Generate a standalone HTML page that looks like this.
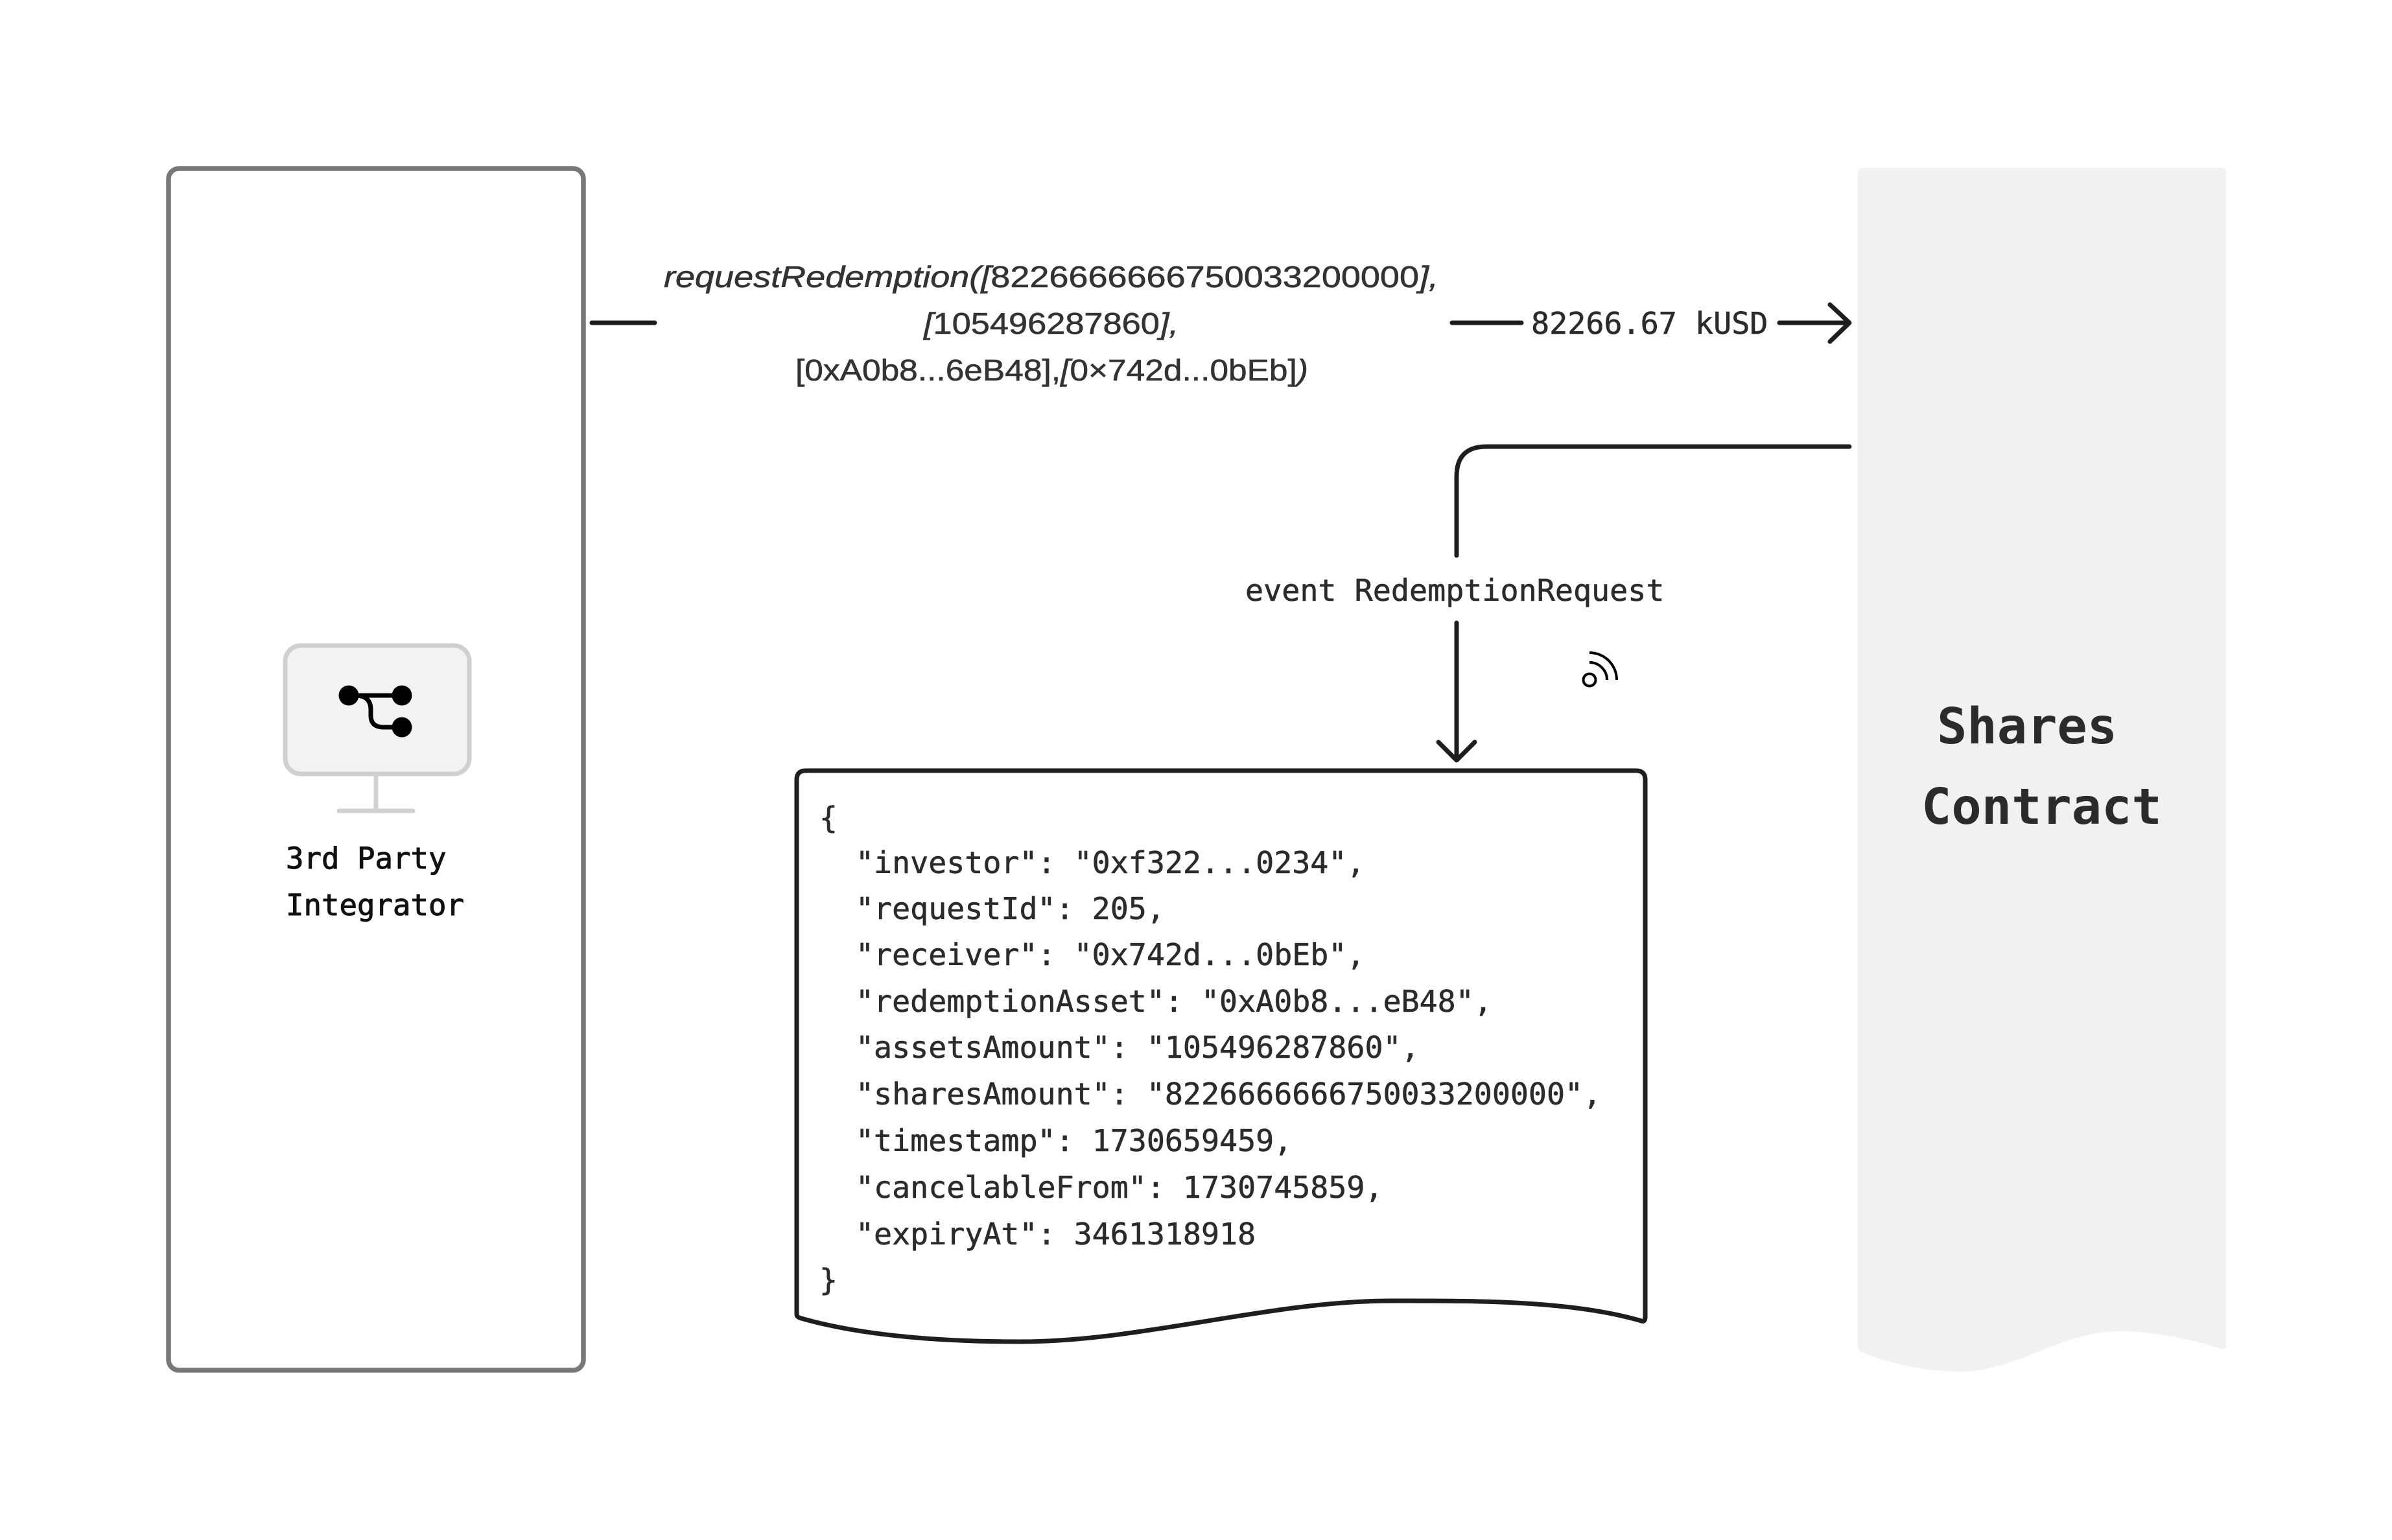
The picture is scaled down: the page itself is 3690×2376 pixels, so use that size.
<!DOCTYPE html>
<html>
<head>
<meta charset="utf-8">
<style>
  html, body { margin: 0; padding: 0; background: #ffffff; }
  body { width: 3690px; height: 2376px; overflow: hidden; }
  svg { display: block; }
</style>
</head>
<body>
<svg width="3690" height="2376" viewBox="0 0 3690 2376" xmlns="http://www.w3.org/2000/svg">
  <rect x="0" y="0" width="3690" height="2376" fill="#ffffff"/>

  <!-- Left: 3rd Party Integrator box -->
  <rect x="260" y="260" width="640" height="1854" rx="16" ry="16" fill="#ffffff" stroke="#787878" stroke-width="7.5"/>

  <!-- Monitor icon -->
  <rect x="440" y="996" width="284" height="198" rx="24" ry="24" fill="#f2f2f2" stroke="#d0d0d0" stroke-width="7"/>
  <line x1="580" y1="1197" x2="580" y2="1250" stroke="#d0d0d0" stroke-width="7"/>
  <line x1="523" y1="1251" x2="637" y2="1251" stroke="#d0d0d0" stroke-width="7" stroke-linecap="round"/>
  <!-- branch glyph -->
  <path d="M538,1073 H620" fill="none" stroke="#000" stroke-width="7"/>
  <path d="M548,1073 Q572,1073 572,1095 L572,1104 Q572,1122 592,1122 L620,1122" fill="none" stroke="#000" stroke-width="7"/>
  <circle cx="538" cy="1073" r="15.5" fill="#000"/>
  <circle cx="620" cy="1073" r="15.5" fill="#000"/>
  <circle cx="620" cy="1122" r="15.5" fill="#000"/>

  <text x="441" y="1340" font-family="'DejaVu Sans Mono', 'Liberation Mono', monospace" font-size="45.7" fill="#111" stroke="#111" stroke-width="1">3rd Party</text>
  <text x="441" y="1412" font-family="'DejaVu Sans Mono', 'Liberation Mono', monospace" font-size="45.7" fill="#111" stroke="#111" stroke-width="1">Integrator</text>

  <!-- Top arrow: requestRedemption -->
  <line x1="913" y1="498" x2="1010" y2="498" stroke="#1e1e1e" stroke-width="7" stroke-linecap="round"/>

  <g font-family="'Liberation Sans', sans-serif" font-size="46" fill="#333" stroke="#333" stroke-width="0.6">
    <text x="1024" y="443" textLength="1195" lengthAdjust="spacingAndGlyphs"><tspan font-style="italic">requestRedemption([</tspan>8226666666750033200000<tspan font-style="italic">],</tspan></text>
    <text x="1425" y="515" textLength="393" lengthAdjust="spacingAndGlyphs"><tspan font-style="italic">[</tspan>105496287860<tspan font-style="italic">],</tspan></text>
    <text x="1227" y="587" textLength="791" lengthAdjust="spacingAndGlyphs">[0xA0b8...6eB48],<tspan font-style="italic">[</tspan>0×742d...0bEb]<tspan font-style="italic">)</tspan></text>
  </g>

  <line x1="2240" y1="498" x2="2347" y2="498" stroke="#1e1e1e" stroke-width="7" stroke-linecap="round"/>
  <text x="2362" y="515" font-family="'DejaVu Sans Mono', 'Liberation Mono', monospace" font-size="46.7" fill="#2b2b2b" stroke="#2b2b2b" stroke-width="0.6">82266.67 kUSD</text>
  <line x1="2745" y1="498" x2="2850" y2="498" stroke="#1e1e1e" stroke-width="7" stroke-linecap="round"/>
  <polyline points="2823,470 2853,498 2823,527" fill="none" stroke="#1e1e1e" stroke-width="7" stroke-linecap="round" stroke-linejoin="round"/>

  <!-- Elbow connector: event -->
  <path d="M2853,689 H2293 Q2247,689 2247,735 V857" fill="none" stroke="#1e1e1e" stroke-width="7" stroke-linecap="round"/>
  <text x="1921" y="927" font-family="'DejaVu Sans Mono', 'Liberation Mono', monospace" font-size="46.7" fill="#2b2b2b" stroke="#2b2b2b" stroke-width="0.6">event RedemptionRequest</text>
  <line x1="2247" y1="961" x2="2247" y2="1170" stroke="#1e1e1e" stroke-width="7" stroke-linecap="round"/>
  <polyline points="2219,1145 2247,1173 2275,1145" fill="none" stroke="#1e1e1e" stroke-width="7" stroke-linecap="round" stroke-linejoin="round"/>

  <!-- broadcast icon -->
  <circle cx="2452" cy="1049" r="9.5" fill="none" stroke="#000" stroke-width="4"/>
  <path d="M2452,1022 A27,27 0 0 1 2479,1049" fill="none" stroke="#000" stroke-width="4"/>
  <path d="M2452,1007 A42,42 0 0 1 2494,1049" fill="none" stroke="#000" stroke-width="4"/>

  <!-- JSON document box -->
  <path d="M1229,2028 L1229,1203 Q1229,1189 1243,1189 L2524,1189 Q2538,1189 2538,1203 L2538,2032 Q2538,2040 2532,2038 C2420,2005 2260,2007 2146,2007 C1960,2007 1760,2070 1575,2070 C1430,2070 1320,2058 1236,2034 Q1229,2032 1229,2028 Z" fill="#ffffff" stroke="#1e1e1e" stroke-width="7" stroke-linejoin="round"/>

  <g font-family="'DejaVu Sans Mono', 'Liberation Mono', monospace" font-size="46.6" fill="#2b2b2b" stroke="#2b2b2b" stroke-width="0.6">
    <text x="1264" y="1278">{</text>
    <text x="1320" y="1347">"investor": "0xf322...0234",</text>
    <text x="1320" y="1418">"requestId": 205,</text>
    <text x="1320" y="1489">"receiver": "0x742d...0bEb",</text>
    <text x="1320" y="1561">"redemptionAsset": "0xA0b8...eB48",</text>
    <text x="1320" y="1632">"assetsAmount": "105496287860",</text>
    <text x="1320" y="1704">"sharesAmount": "8226666666750033200000",</text>
    <text x="1320" y="1776">"timestamp": 1730659459,</text>
    <text x="1320" y="1848">"cancelableFrom": 1730745859,</text>
    <text x="1320" y="1920">"expiryAt": 3461318918</text>
    <text x="1264" y="1991">}</text>
  </g>

  <!-- Shares Contract panel -->
  <path d="M2866,2078 V267 Q2866,259 2874,259 H3426 Q3434,259 3434,267 V2074 Q3434,2084 3426,2081 C3380,2066 3325,2054 3269,2054 C3180,2054 3110,2116 3024,2116 C2965,2116 2920,2104 2876,2088 Q2866,2084 2866,2078 Z" fill="#f1f1f1"/>
  <text x="2988" y="1147" font-family="'DejaVu Sans Mono', 'Liberation Mono', monospace" font-size="77" font-weight="bold" fill="#2b2b2b">Shares</text>
  <text x="2964" y="1271" font-family="'DejaVu Sans Mono', 'Liberation Mono', monospace" font-size="77" font-weight="bold" fill="#2b2b2b">Contract</text>
</svg>
</body>
</html>
